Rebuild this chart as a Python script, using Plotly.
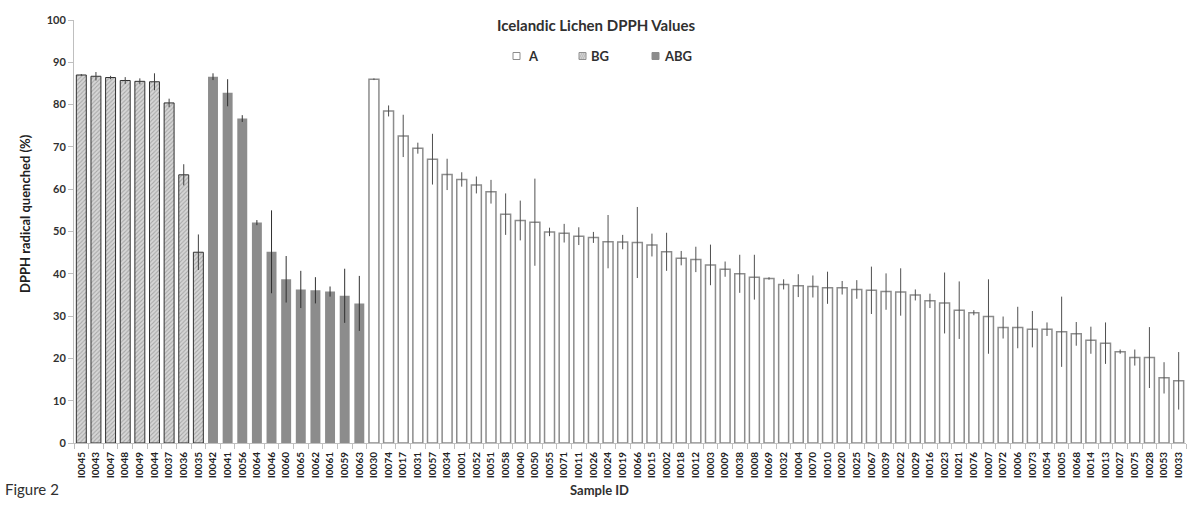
import plotly.graph_objects as go

# ---------------- data ----------------
bg_ids = ["I0045", "I0043", "I0047", "I0048", "I0049", "I0044", "I0037", "I0036", "I0035"]
bg_vals = [87.0, 86.7, 86.4, 85.7, 85.5, 85.4, 80.4, 63.4, 45.1]
bg_err = [0.2, 1.0, 0.4, 0.8, 0.7, 2.0, 1.0, 2.5, 4.2]

abg_ids = ["I0042", "I0041", "I0056", "I0064", "I0046", "I0060", "I0065", "I0062", "I0061", "I0059", "I0063"]
abg_vals = [86.6, 82.8, 76.7, 52.1, 45.2, 38.7, 36.3, 36.1, 35.8, 34.8, 33.0]
abg_err = [0.8, 3.2, 0.8, 0.6, 9.8, 5.5, 4.4, 3.1, 1.2, 6.4, 6.5]

a_ids = ["I0030", "I0074", "I0017", "I0031", "I0057", "I0034", "I0001", "I0052", "I0051", "I0058",
         "I0040", "I0050", "I0055", "I0071", "I0011", "I0026", "I0024", "I0019", "I0066", "I0015",
         "I0002", "I0018", "I0012", "I0003", "I0009", "I0038", "I0008", "I0069", "I0032", "I0004",
         "I0070", "I0010", "I0020", "I0025", "I0067", "I0039", "I0022", "I0029", "I0016", "I0023",
         "I0021", "I0076", "I0007", "I0072", "I0006", "I0073", "I0054", "I0005", "I0068", "I0014",
         "I0013", "I0027", "I0075", "I0028", "I0053", "I0033"]
a_vals = [86.0, 78.5, 72.6, 69.7, 67.1, 63.5, 62.3, 61.0, 59.4, 54.1,
          52.6, 52.2, 49.9, 49.6, 48.9, 48.6, 47.6, 47.5, 47.4, 46.8,
          45.2, 43.7, 43.4, 42.1, 41.1, 40.0, 39.2, 38.9, 37.5, 37.2,
          37.0, 36.7, 36.7, 36.3, 36.1, 35.8, 35.7, 35.0, 33.6, 33.1,
          31.4, 30.8, 29.9, 27.3, 27.3, 26.9, 26.9, 26.3, 25.8, 24.3,
          23.6, 21.6, 20.2, 20.2, 15.4, 14.7]
a_err = [0.2, 1.3, 5.0, 1.3, 6.0, 3.7, 1.7, 2.0, 2.8, 4.9,
         4.7, 10.3, 1.0, 2.2, 2.1, 1.3, 6.3, 1.7, 8.4, 2.7,
         4.5, 1.7, 3.0, 4.8, 1.8, 4.5, 5.3, 0.3, 1.2, 2.7,
         2.6, 3.8, 1.6, 2.2, 5.6, 4.3, 5.6, 1.3, 1.7, 7.2,
         6.8, 0.6, 8.8, 2.6, 4.9, 4.3, 1.6, 8.3, 2.8, 3.2,
         4.9, 0.5, 1.9, 7.2, 3.7, 6.8]

y_ticks = [0, 10, 20, 30, 40, 50, 60, 70, 80, 90, 100]

title_text = "Icelandic Lichen DPPH Values"
y_title = "DPPH radical quenched (%)"
x_title = "Sample ID"
fig_label = "Figure 2"
legend_names = ["A", "BG", "ABG"]

# ---------------- figure ----------------
FONT = "Lato"
TXT = "#404040"
all_ids = bg_ids + abg_ids + a_ids

# plot area in page pixels: x 74..1186, y 20..443
PL, PR, PT, PB = 74, 1186, 20, 443


def px(x):
    return (x - PL) / (PR - PL)


def py(y):
    return (PB - y) / (PB - PT)


fig = go.Figure()

fig.add_trace(go.Bar(
    x=bg_ids, y=bg_vals, name="BG", showlegend=False,
    marker=dict(color="#d9d9d9",
                pattern=dict(shape="/", fgcolor="#7a7a7a", bgcolor="#d6d6d6", size=3, solidity=0.35),
                line=dict(color="#303030", width=1)),
    error_y=dict(type="data", array=bg_err, color="#404040", thickness=1, width=0),
))
fig.add_trace(go.Bar(
    x=abg_ids, y=abg_vals, name="ABG", showlegend=False,
    marker=dict(color="#8c8c8c", line=dict(color="#8c8c8c", width=0)),
    error_y=dict(type="data", array=abg_err, color="#303030", thickness=1, width=0),
))
fig.add_trace(go.Bar(
    x=a_ids, y=a_vals, name="A", showlegend=False,
    marker=dict(color="white", line=dict(color="#8c8c8c", width=1.5)),
    error_y=dict(type="data", array=a_err, color="#505050", thickness=1, width=0),
))

# manual legend (squares + text)
leg_y = 56
leg_items = [(513, "white", "#8c8c8c", legend_names[0], 527),
             (579, "#d9d9d9", "#909090", legend_names[1], 590),
             (652, "#8c8c8c", "#8c8c8c", legend_names[2], 663)]
shapes = []
annotations = []
for x0, fill, edge, name, tx in leg_items:
    shapes.append(dict(type="rect", xref="paper", yref="paper",
                       x0=px(x0), x1=px(x0 + 7),
                       y0=py(leg_y + 3.5), y1=py(leg_y - 3.5),
                       fillcolor=fill, line=dict(color=edge, width=1)))
    annotations.append(dict(text="<b>%s</b>" % name, xref="paper", yref="paper",
                            x=px(tx - 1), y=py(leg_y), xanchor="left", yanchor="middle",
                            showarrow=False, font=dict(family=FONT, size=13, color="#303030")))
# hatch lines in BG legend square
for k in range(3):
    bx = 579 + 2 * k
    shapes.append(dict(type="line", xref="paper", yref="paper",
                       x0=px(bx), x1=px(bx + 3),
                       y0=py(leg_y + 3), y1=py(leg_y - 3),
                       line=dict(color="#a0a0a0", width=0.6)))

annotations += [
    dict(text="<b>%s</b>" % title_text, xref="paper", yref="paper",
         x=px(596), y=py(25), xanchor="center", yanchor="middle",
         showarrow=False, font=dict(family=FONT, size=15, color="#303030")),
    dict(text="<b>%s</b>" % y_title, xref="paper", yref="paper",
         x=px(25), y=py(214), xanchor="center", yanchor="middle",
         textangle=-90, showarrow=False, font=dict(family=FONT, size=13, color="#202020")),
    dict(text="<b>%s</b>" % x_title, xref="paper", yref="paper",
         x=px(599), y=py(490), xanchor="center", yanchor="middle",
         showarrow=False, font=dict(family=FONT, size=13, color="#303030")),
    dict(text=fig_label, xref="paper", yref="paper",
         x=px(3), y=py(489), xanchor="left", yanchor="middle",
         showarrow=False, font=dict(family=FONT, size=15, color="#303030")),
]

fig.update_layout(
    width=1192, height=507,
    margin=dict(l=PL, r=1192 - PR, t=PT, b=507 - PB),
    paper_bgcolor="white", plot_bgcolor="white",
    barmode="overlay", bargap=0.32,
    showlegend=False,
    shapes=shapes, annotations=annotations,
    font=dict(family=FONT, color=TXT),
)
fig.update_xaxes(
    type="category", categoryorder="array", categoryarray=all_ids,
    tickmode="array", tickvals=all_ids, ticktext=["<b>%s</b>" % s for s in all_ids],
    range=[-0.5, len(all_ids) - 0.5],
    tickangle=-90, tickfont=dict(family=FONT, size=10, color="#202020"),
    ticks="outside", tickson="boundaries", ticklen=5, tickcolor="#bfbfbf",
    showline=True, linecolor="#bfbfbf", linewidth=1, showgrid=False, zeroline=False,
    ticklabelstandoff=4,
)
fig.update_yaxes(
    range=[0, 100], tickvals=y_ticks, ticktext=["<b>%d</b>" % v for v in y_ticks],
    tickfont=dict(family=FONT, size=11, color="#303030"),
    ticks="outside", ticklen=5, tickcolor="#bfbfbf",
    showline=True, linecolor="#bfbfbf", linewidth=1, showgrid=False, zeroline=False,
)

fig.write_html("out.html", config={"displayModeBar": False},
               post_script="document.body.style.margin='0px';")
